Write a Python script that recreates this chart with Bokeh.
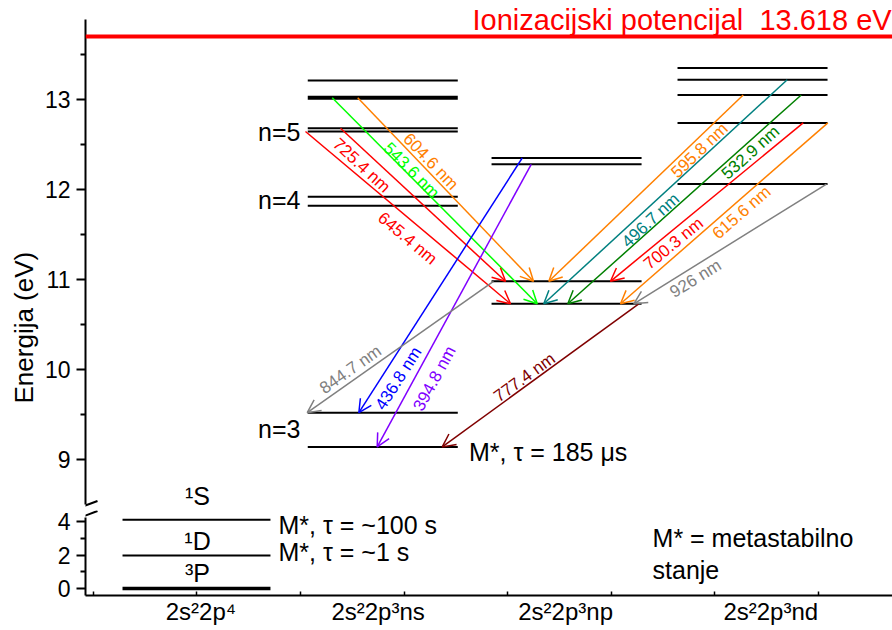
import math
from bokeh.plotting import figure
from bokeh.models import Range1d, FixedTicker, Span, Arrow, OpenHead, Title
from bokeh.layouts import column
from bokeh.embed import file_html
from bokeh.resources import INLINE
from bokeh.core.properties import value

FONT = "Liberation Sans"

# ------------------------------------------------------------------ data
ground_levels = [1.97, 4.1]
ground_thick = [0.0]
ground_terms = ["³P", "¹D", "¹S"]

ns_levels = [13.21, 12.68, 12.645, 11.92, 11.82, 9.52, 9.14]
ns_thick = [13.02]
np_levels = [12.35, 12.28, 10.98, 10.73]
nd_levels = [13.35, 13.22, 13.05, 12.74, 12.06]

ion_line = 13.70
ion_text = "Ionizacijski potencijal\u00a0 13.618 eV"

configs = ["2s²2p⁴", "2s²2p³ns", "2s²2p³np", "2s²2p³nd"]
config_pos = [1.04, 2.75, 4.56, 6.54]

wl = ["604.6 nm", "543.6 nm", "725.4 nm", "645.4 nm", "436.8 nm", "394.8 nm",
      "777.4 nm", "844.7 nm", "595.8 nm", "496.7 nm", "532.9 nm", "700.3 nm",
      "615.6 nm", "926 nm"]
x_from = [2.553, 2.307, 2.387, 2.049, 4.141, 4.228, 5.266, 3.864, 6.274, 6.699,
          6.834, 6.853, 7.091, 7.078]
e_from = [13.02, 13.02, 12.68, 12.645, 12.35, 12.28, 10.73, 10.98, 13.05, 13.22,
          13.05, 12.74, 12.74, 12.06]
x_to = [4.250, 4.286, 3.980, 4.028, 2.564, 2.741, 3.369, 2.066, 4.398, 4.349,
        4.581, 4.993, 5.090, 5.218]
e_to = [10.98, 10.73, 10.98, 10.73, 9.52, 9.14, 9.14, 9.52, 10.98, 10.73,
        10.73, 10.98, 10.73, 10.73]
lab_x = [3.258, 3.072, 2.590, 3.034, 2.947, 3.295, 4.163, 2.484, 5.852, 5.380,
         6.345, 5.601, 6.258, 5.814]
lab_e = [12.311, 12.211, 12.267, 11.456, 9.90, 9.90, 9.911, 10.00, 12.433, 11.656,
         12.411, 11.40, 11.744, 11.011]
colors = ["#FF8000", "#00FF00", "#FF0000", "#FF0000", "#0000FF", "#8000FF",
          "#800000", "#808080", "#FF8000", "#008080", "#008000", "#FF0000",
          "#FF8000", "#808080"]

# ------------------------------------------------------------------ layout constants
col_ground = (0.283, 1.711)
col_ns = (2.071, 3.519)
col_np = (3.845, 5.293)
col_nd = (5.640, 7.088)
PX_X = 103.6     # px per x unit
PX_Y = 90.0      # px per eV (upper panel)
PX_Y_LO = 16.75  # px per eV (lower panel)
X_RANGE = (-0.0743, 7.715)


def style_yaxis(p):
    p.outline_line_color = None
    p.grid.visible = False
    p.background_fill_color = "white"
    p.border_fill_color = "white"
    for ax in p.yaxis:
        ax.axis_line_width = 2
        ax.major_tick_line_width = 2
        ax.minor_tick_line_width = 2
        ax.major_tick_out = 9
        ax.major_tick_in = 0
        ax.minor_tick_out = 5
        ax.minor_tick_in = 0
        ax.major_label_text_font = FONT
        ax.major_label_text_font_size = "23px"
        ax.major_label_text_color = "black"
        ax.major_label_standoff = 6


def draw_levels(p, col, levels, width):
    n = len(levels)
    p.segment(x0=[col[0]] * n, y0=levels, x1=[col[1]] * n, y1=levels,
              line_color="black", line_width=width)


def break_mark(p, y, px_per_unit):
    dx = 12.0 / PX_X
    dy = 4.5 / px_per_unit
    p.segment(x0=[X_RANGE[0] - dx], y0=[y - dy], x1=[X_RANGE[0] + dx],
              y1=[y + dy], line_color="black", line_width=2)


# ------------------------------------------------------------------ upper panel
up = figure(width=892, height=510, x_range=Range1d(*X_RANGE),
            y_range=Range1d(8.4334, 14.0778), output_backend="svg",
            toolbar_location=None, x_axis_location=None,
            min_border_left=85, min_border_right=0, min_border_top=2,
            min_border_bottom=0)
style_yaxis(up)
up.yaxis.ticker = FixedTicker(ticks=[9, 10, 11, 12, 13],
                              minor_ticks=[9.5, 10.5, 11.5, 12.5, 13.5])
up.yaxis.bounds = (8.5, 13.889)

up.add_layout(Title(text="Energija (eV)", align="left", offset=107,
                    standoff=6, text_font=FONT, text_font_size="26px",
                    text_font_style="normal", text_color="black"), "left")

up.add_layout(Span(location=ion_line, dimension="width", line_color="#FF0000",
                   line_width=4))
up.text(x=[3.661], y=[13.878], text=[ion_text], text_align="left",
        text_baseline="middle", text_color="#FF0000",
        text_font=value(FONT), text_font_size="29px")

draw_levels(up, col_ns, ns_levels, 2)
draw_levels(up, col_ns, ns_thick, 4)
draw_levels(up, col_np, np_levels, 2)
draw_levels(up, col_nd, nd_levels, 2)

for i in range(len(wl)):
    c = colors[i]
    up.add_layout(Arrow(end=OpenHead(size=13, line_color=c, line_width=1.5),
                        x_start=x_from[i], y_start=e_from[i],
                        x_end=x_to[i], y_end=e_to[i],
                        line_color=c, line_width=1.5))

angles = [math.atan((e_to[i] - e_from[i]) * PX_Y / ((x_to[i] - x_from[i]) * PX_X))
          for i in range(len(wl))]
up.text(x=lab_x, y=lab_e, text=wl, angle=angles, text_color=colors,
        text_align="center", text_baseline="middle",
        text_font=value(FONT), text_font_size="17px")

up.text(x=[2.001] * 3, y=[12.64, 11.88, 9.344], text=["n=5", "n=4", "n=3"],
        text_align="right", text_baseline="middle",
        text_font=value(FONT), text_font_size="25px", text_color="black")
up.text(x=[3.627], y=[9.08], text=["M*, τ = 185 μs"], text_align="left",
        text_baseline="middle", text_font=value(FONT), text_font_size="25px",
        text_color="black")
up.text(x=[1.007], y=[8.60], text=[ground_terms[2]], text_align="center",
        text_baseline="middle", text_font=value(FONT), text_font_size="25px",
        text_color="black")

break_mark(up, 8.489, PX_Y)

# ------------------------------------------------------------------ lower panel
lo = figure(width=892, height=119, x_range=up.x_range,
            y_range=Range1d(-0.418, 4.657), output_backend="svg",
            toolbar_location=None,
            min_border_left=85, min_border_right=0, min_border_top=0,
            min_border_bottom=34)
style_yaxis(lo)
lo.yaxis.ticker = FixedTicker(ticks=[0, 2, 4], minor_ticks=[1, 3])
lo.yaxis.bounds = (-0.418, 4.24)

xa = lo.xaxis[0]
xa.ticker = FixedTicker(ticks=config_pos, minor_ticks=list(range(8)))
xa.major_label_overrides = {config_pos[i]: configs[i] for i in range(4)}
xa.axis_line_width = 2
xa.major_tick_in = 0
xa.major_tick_out = 0
xa.minor_tick_in = 4
xa.minor_tick_out = 0
xa.minor_tick_line_width = 1.5
xa.major_label_text_font = FONT
xa.major_label_text_font_size = "24px"
xa.major_label_text_color = "black"
xa.major_label_standoff = 2

draw_levels(lo, col_ground, ground_levels, 2)
draw_levels(lo, col_ground, ground_thick, 3.5)

lo.text(x=[1.007, 1.007], y=[0.955, 2.81], text=ground_terms[:2],
        text_align="center", text_baseline="middle", text_font=value(FONT),
        text_font_size="25px", text_color="black")
lo.text(x=[1.789, 1.789], y=[3.82, 2.15], text=["M*, τ = ~100 s", "M*, τ = ~1 s"],
        text_align="left", text_baseline="middle", text_font=value(FONT),
        text_font_size="25px", text_color="black")
lo.text(x=[5.399, 5.399], y=[3.0, 1.1], text=["M* = metastabilno", "stanje"],
        text_align="left", text_baseline="middle", text_font=value(FONT),
        text_font_size="25px", text_color="black")

break_mark(lo, 4.358, PX_Y_LO)

layout = column(up, lo, spacing=0)
open("out.html", "w").write(file_html(layout, INLINE))
